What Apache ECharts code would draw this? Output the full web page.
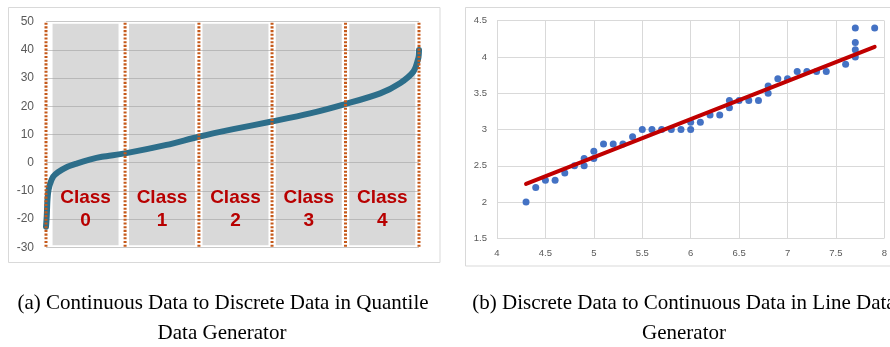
<!DOCTYPE html>
<html>
<head>
<meta charset="utf-8">
<script src="https://cdn.jsdelivr.net/npm/echarts@6/dist/echarts.min.js"></script>
<style>html,body{margin:0;padding:0;background:#fff}#c{width:890px;height:347px}</style>
</head>
<body>
<div id="c"></div>
<script>
// ---- Panel (a): quantile curve ----
const classNames = ['0', '1', '2', '3', '4'];
const quantileBounds = [0, 212, 410, 606, 803, 1000];
const bandTop = 49.3;
const bandBottom = -29.3;
const curveRank = [0, 2, 4, 7, 11, 19, 32, 55, 82, 117, 150, 212, 323, 409, 502, 605, 708, 802, 896, 949, 985, 998, 1000];
const curveValue = [-22.7, -19, -13, -9.5, -7.5, -5, -3.4, -1.6, -0.3, 1.1, 2.1, 3.3, 6.3, 9.2, 11.9, 14.6, 17.5, 20.8, 24.6, 28.2, 32.3, 37, 40];
const leftYTicks = { min: -30, max: 50, step: 10 };

// ---- Panel (b): line data generator ----
const ptX = [4.3,4.4,4.5,4.6,4.7,4.8,4.9,4.9,5.0,5.0,5.1,5.2,5.3,5.4,5.5,5.6,5.7,5.8,5.9,6.0,6.0,6.1,6.2,6.3,6.4,6.4,6.5,6.6,6.7,6.8,6.8,6.9,7.0,7.1,7.2,7.3,7.4,7.6,7.7,7.7,7.7,7.7,7.9];
const ptY = [2.0,2.2,2.3,2.3,2.4,2.5,2.5,2.6,2.6,2.7,2.8,2.8,2.8,2.9,3.0,3.0,3.0,3.0,3.0,3.0,3.1,3.1,3.2,3.2,3.3,3.4,3.4,3.4,3.4,3.5,3.6,3.7,3.7,3.8,3.8,3.8,3.8,3.9,4.0,4.1,4.2,4.4,4.4];
const fitX = [4.3, 7.9];
const fitY = [2.25, 4.14];
const rightXTicks = { min: 4, max: 8, step: 0.5 };
const rightYTicks = { min: 1.5, max: 4.5, step: 0.5 };

const captionA = ['(a) Continuous Data to Discrete Data in Quantile', 'Data Generator'];
const captionB = ['(b) Discrete Data to Continuous Data in Line Data', 'Generator'];

const classCenters = classNames.map((c, i) => (quantileBounds[i] + quantileBounds[i + 1]) / 2);

const chart = echarts.init(document.getElementById('c'), null, { renderer: 'canvas' });

const series = [];
// gray class bands (stacked up & down from 0)
series.push({
  type: 'bar', xAxisIndex: 0, yAxisIndex: 0, stack: 'band', barWidth: 66,
  itemStyle: { color: 'rgba(160,160,160,0.4)' }, silent: true,
  data: classCenters.map(c => [c, bandTop]), z: 1
});
series.push({
  type: 'bar', xAxisIndex: 0, yAxisIndex: 0, stack: 'band', barWidth: 66,
  itemStyle: { color: 'rgba(160,160,160,0.4)' }, silent: true,
  data: classCenters.map(c => [c, bandBottom]), z: 1
});
// quantile curve
series.push({
  type: 'line', xAxisIndex: 0, yAxisIndex: 0, smooth: 0.3,
  showSymbol: false, symbol: 'none',
  lineStyle: { color: '#2D6E8A', width: 6, cap: 'round', join: 'round' },
  data: curveRank.map((r, i) => [r, curveValue[i]]), z: 3
});
// dotted class boundaries
quantileBounds.forEach(b => {
  series.push({
    type: 'line', xAxisIndex: 0, yAxisIndex: 0, symbol: 'none', silent: true,
    lineStyle: { color: '#C5591A', width: 3, type: [2.1, 1.6], cap: 'butt' },
    data: [[b, -29.8], [b, 49.6]], z: 4
  });
});
// class labels
series.push({
  type: 'scatter', xAxisIndex: 0, yAxisIndex: 0, symbolSize: 0, silent: true,
  itemStyle: { opacity: 1 },
  data: classCenters.map((c, i) => ({ value: [c, -16.6], name: classNames[i] })),
  label: {
    show: true, position: 'inside', opacity: 1,
    formatter: p => 'Class\n' + p.name,
    color: '#B80000', fontSize: 19, fontWeight: 'bold', lineHeight: 23,
    fontFamily: 'Liberation Sans, Arial, sans-serif', align: 'center'
  },
  z: 5
});
// right scatter
series.push({
  type: 'scatter', xAxisIndex: 1, yAxisIndex: 1, symbolSize: 7,
  itemStyle: { color: '#4472C4', opacity: 1 },
  data: ptX.map((x, i) => [x, ptY[i]]), z: 3
});
// fitted line
series.push({
  type: 'line', xAxisIndex: 1, yAxisIndex: 1, symbol: 'none',
  lineStyle: { color: '#C00000', width: 4, cap: 'round' },
  data: fitX.map((x, i) => [x, fitY[i]]), z: 4
});

const axisLabelBase = { color: '#595959', fontFamily: 'Liberation Sans, Arial, sans-serif' };

chart.setOption({
  animation: false,
  backgroundColor: '#fff',
  grid: [
    { left: 46, right: 471, top: 21.7, bottom: 99.7 },
    { left: 497, right: 5, top: 20.7, bottom: 108.7 }
  ],
  xAxis: [
    { gridIndex: 0, type: 'value', min: 0, max: 1000, show: false, splitLine: { show: false } },
    { gridIndex: 1, type: 'value', min: rightXTicks.min, max: rightXTicks.max, interval: rightXTicks.step,
      axisLine: { show: false }, axisTick: { show: false },
      axisLabel: Object.assign({ fontSize: 9.5, margin: 10 }, axisLabelBase),
      splitLine: { show: true, lineStyle: { color: '#D9D9D9', width: 1 } } }
  ],
  yAxis: [
    { gridIndex: 0, type: 'value', min: leftYTicks.min, max: leftYTicks.max, interval: leftYTicks.step,
      axisLine: { show: false }, axisTick: { show: false },
      axisLabel: Object.assign({ fontSize: 12, margin: 12 }, axisLabelBase),
      splitLine: { show: true, lineStyle: { color: '#C8C8C8', width: 1 } } },
    { gridIndex: 1, type: 'value', min: rightYTicks.min, max: rightYTicks.max, interval: rightYTicks.step,
      axisLine: { show: false }, axisTick: { show: false },
      axisLabel: Object.assign({ fontSize: 9.5, margin: 10 }, axisLabelBase),
      splitLine: { show: true, lineStyle: { color: '#D9D9D9', width: 1 } } }
  ],
  series: series,
  graphic: [
    { type: 'rect', shape: { x: 8.5, y: 7.5, width: 431.5, height: 255 }, style: { fill: null, stroke: '#D9D9D9', lineWidth: 1 }, z: -1, silent: true },
    { type: 'rect', shape: { x: 465.5, y: 7.5, width: 440, height: 258.5 }, style: { fill: null, stroke: '#D9D9D9', lineWidth: 1 }, z: -1, silent: true },
    { type: 'text', x: 223, y: 303, style: { text: captionA[0], fill: '#000', font: '21px "Liberation Serif", "Times New Roman", serif', textAlign: 'center', textVerticalAlign: 'middle' } },
    { type: 'text', x: 222, y: 333, style: { text: captionA[1], fill: '#000', font: '21px "Liberation Serif", "Times New Roman", serif', textAlign: 'center', textVerticalAlign: 'middle' } },
    { type: 'text', x: 684, y: 303, style: { text: captionB[0], fill: '#000', font: '21px "Liberation Serif", "Times New Roman", serif', textAlign: 'center', textVerticalAlign: 'middle' } },
    { type: 'text', x: 684, y: 333, style: { text: captionB[1], fill: '#000', font: '21px "Liberation Serif", "Times New Roman", serif', textAlign: 'center', textVerticalAlign: 'middle' } }
  ]
});
</script>
</body>
</html>
